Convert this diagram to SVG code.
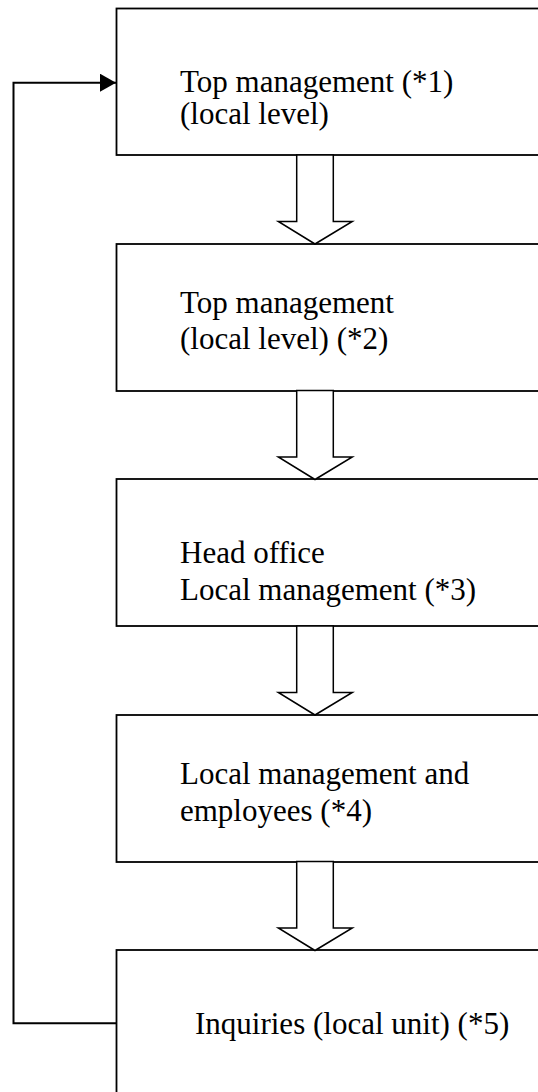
<svg xmlns="http://www.w3.org/2000/svg" width="538" height="1092" viewBox="0 0 538 1092">
  <style>
    .box { fill: #fff; stroke: #000; stroke-width: 1.8; }
    .flow { fill: #fff; stroke: #000; stroke-width: 1.5; stroke-linejoin: miter; }
    .label { font-size: 31px; fill: #000; }
    .loop { fill: none; stroke: #000; stroke-width: 2; }
  </style>
  <defs>
    <marker id="head" markerWidth="16" markerHeight="18" refX="16" refY="9" orient="auto" markerUnits="userSpaceOnUse">
      <path d="M0,0 L16,9 L0,18 Z" fill="#000"/>
    </marker>
    <!-- hollow block arrow, shaft top at 0, tip at 89 -->
    <path id="block" d="M296.7,0 L333.3,0 L333.3,66.5 L352.3,66.5 L315,89 L278.3,66.5 L296.7,66.5 Z"/>
  </defs>

  <g font-family="'Liberation Serif', 'Times New Roman', Times, 'DejaVu Serif', serif">
    <g id="node1">
      <rect class="box" x="116.5" y="8.5" width="440" height="146.5"/>
      <text class="label" x="180" y="92">Top management (*1)</text>
      <text class="label" x="180" y="124">(local level)</text>
    </g>

    <g id="node2">
      <rect class="box" x="116.5" y="244" width="440" height="147"/>
      <text class="label" x="180" y="313">Top management</text>
      <text class="label" x="180" y="349">(local level) (*2)</text>
    </g>

    <g id="node3">
      <rect class="box" x="116.5" y="479" width="440" height="147"/>
      <text class="label" x="180" y="563">Head office</text>
      <text class="label" x="180" y="600">Local management (*3)</text>
    </g>

    <g id="node4">
      <rect class="box" x="116.5" y="715" width="440" height="147"/>
      <text class="label" x="180" y="784">Local management and</text>
      <text class="label" x="180" y="821">employees  (*4)</text>
    </g>

    <g id="node5">
      <rect class="box" x="116.5" y="950" width="440" height="160"/>
      <text class="label" x="195" y="1034">Inquiries (local unit) (*5)</text>
    </g>
  </g>

  <g id="connectors">
    <use href="#block" class="flow" transform="translate(0,155)"/>
    <use href="#block" class="flow" transform="translate(0,390.5)"/>
    <use href="#block" class="flow" transform="translate(0,626)"/>
    <use href="#block" class="flow" transform="translate(0,861.5)"/>
    <polyline class="loop" points="116.5,1023.3 13.5,1023.3 13.5,82.7 116,82.7" marker-end="url(#head)"/>
  </g>
</svg>
